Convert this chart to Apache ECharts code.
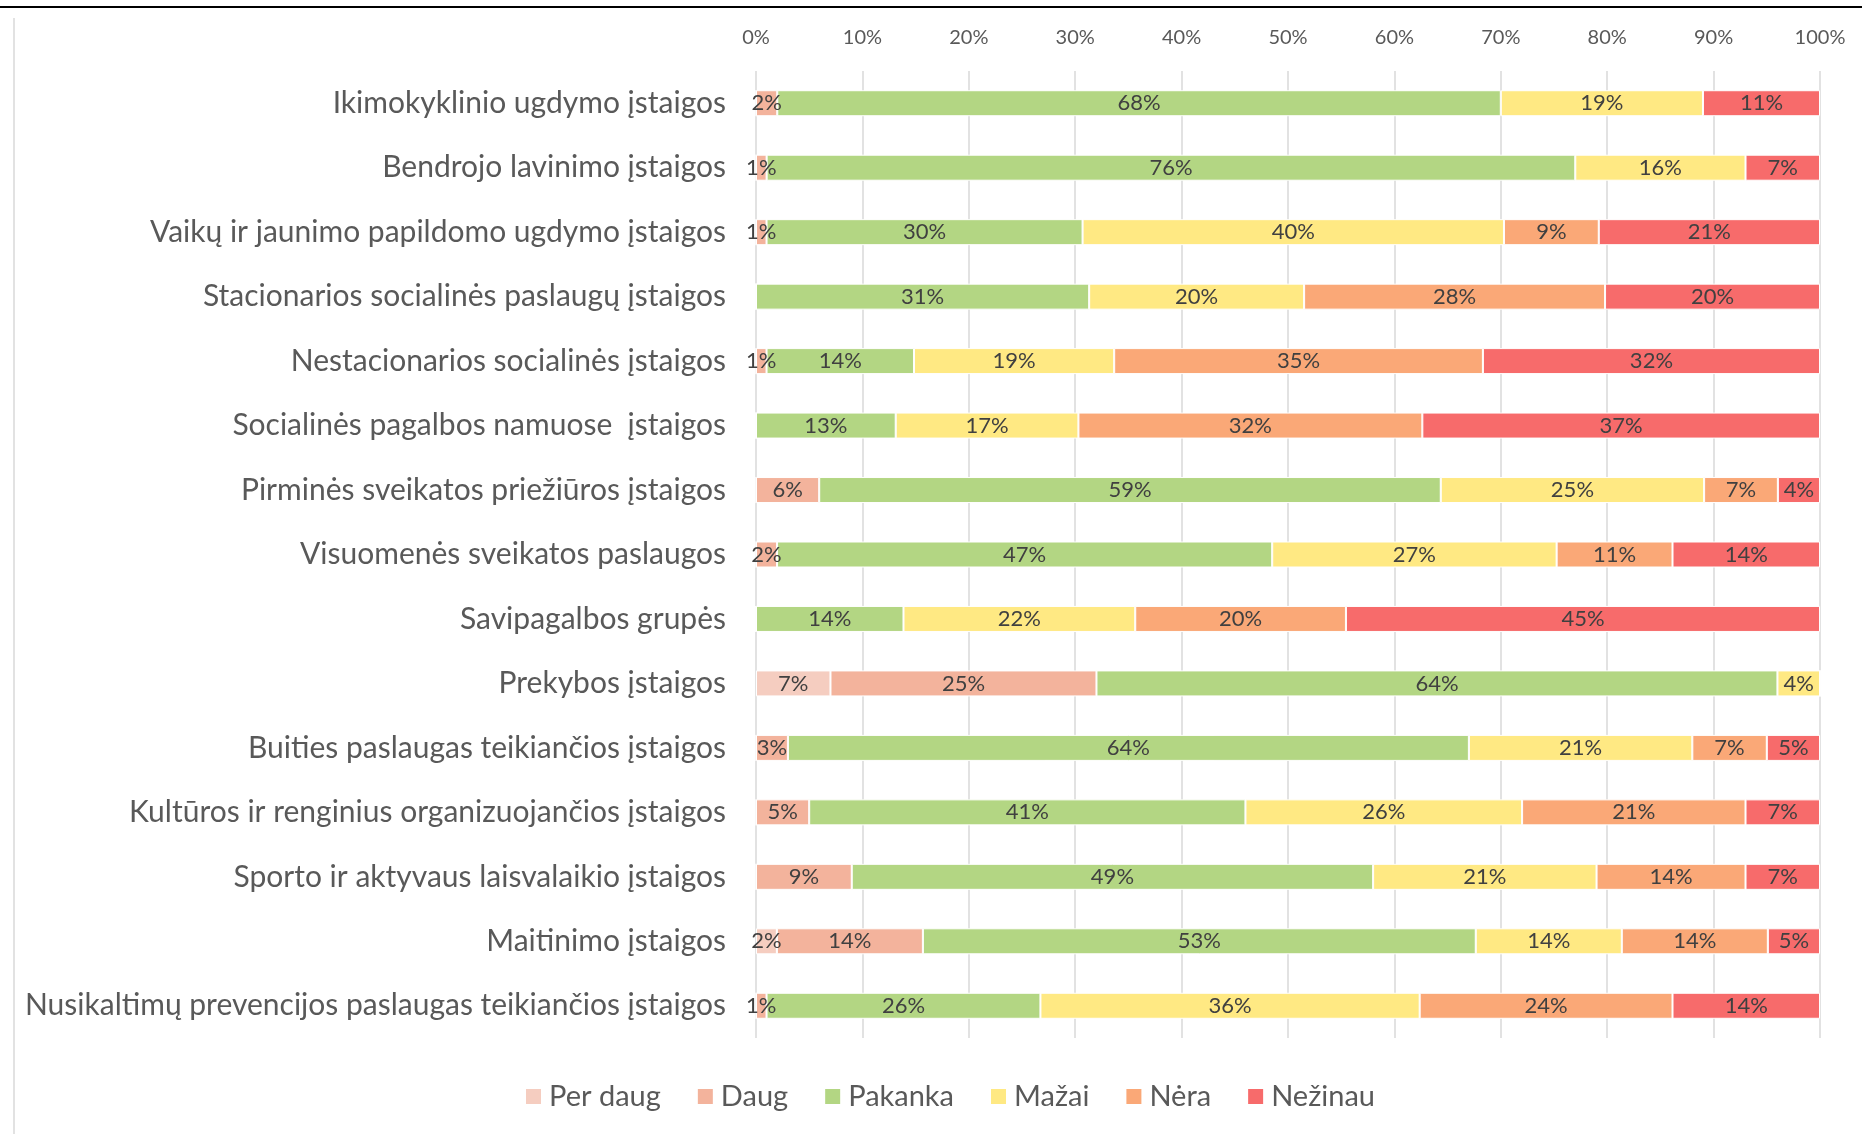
<!DOCTYPE html>
<html>
<head>
<meta charset="utf-8">
<script src="https://cdn.jsdelivr.net/npm/echarts@6/dist/echarts.min.js"></script>
<style>
  html, body { margin: 0; padding: 0; background: #fff; }
  #chart { width: 1872px; height: 1134px; }
</style>
</head>
<body>
<div id="chart"></div>
<script>
const categories = [
  'Ikimokyklinio ugdymo įstaigos',
  'Bendrojo lavinimo įstaigos',
  'Vaikų ir jaunimo papildomo ugdymo įstaigos',
  'Stacionarios socialinės paslaugų įstaigos',
  'Nestacionarios socialinės įstaigos',
  'Socialinės pagalbos namuose  įstaigos',
  'Pirminės sveikatos priežiūros įstaigos',
  'Visuomenės sveikatos paslaugos',
  'Savipagalbos grupės',
  'Prekybos įstaigos',
  'Buities paslaugas teikiančios įstaigos',
  'Kultūros ir renginius organizuojančios įstaigos',
  'Sporto ir aktyvaus laisvalaikio įstaigos',
  'Maitinimo įstaigos',
  'Nusikaltimų prevencijos paslaugas teikiančios įstaigos'
]

// answers per category, in %
const perDaug = [0, 0, 0, 0, 0, 0, 0, 0, 0, 7, 0, 0, 0, 2, 0]
const daug    = [2, 1, 1, 0, 1, 0, 6, 2, 0, 25, 3, 5, 9, 14, 1]
const pakanka = [68, 76, 30, 31, 14, 13, 59, 47, 14, 64, 64, 41, 49, 53, 26]
const mazai   = [19, 16, 40, 20, 19, 17, 25, 27, 22, 4, 21, 26, 21, 14, 36]
const nera    = [0, 0, 9, 28, 35, 32, 7, 11, 20, 0, 7, 21, 14, 14, 24]
const nezinau = [11, 7, 21, 20, 32, 37, 4, 14, 45, 0, 5, 7, 7, 5, 14]

const seriesNames = ['Per daug', 'Daug', 'Pakanka', 'Mažai', 'Nėra', 'Nežinau']
const seriesColors = ['#F5CDC0', '#F3B39C', '#B3D683', '#FFE983', '#FAA877', '#F76B6B']
const xTicks = ['0%', '10%', '20%', '30%', '40%', '50%', '60%', '70%', '80%', '90%', '100%']

const rawData = [perDaug, daug, pakanka, mazai, nera, nezinau]
// 100% stacked: each row scaled to its total
const rowTotals = categories.map((c, i) => rawData.reduce((s, arr) => s + arr[i], 0))

const chart = echarts.init(document.getElementById('chart'))

const series = seriesNames.map((name, k) => ({
  name: name,
  type: 'bar',
  stack: 'total',
  barWidth: 26,
  data: rawData[k].map((v, i) => (v / rowTotals[i]) * 100),
  itemStyle: {
    color: seriesColors[k],
    borderColor: '#fff',
    borderWidth: 1
  },
  label: {
    show: true,
    position: 'inside',
    color: '#404040',
    fontFamily: 'Lato',
    fontSize: 22,
    formatter: (p) => {
      const v = rawData[k][p.dataIndex]
      return v ? v + '%' : ''
    }
  },
  emphasis: { disabled: true }
}))

const option = {
  animation: false,
  textStyle: { fontFamily: 'Lato' },
  grid: {
    left: 756,
    right: 52,
    top: 71,
    bottom: 96,
    containLabel: false
  },
  xAxis: {
    type: 'value',
    position: 'top',
    min: 0,
    max: 100,
    interval: 10,
    axisLine: { show: false },
    axisTick: { show: false },
    splitLine: { lineStyle: { color: '#D9D9D9', width: 1.5 } },
    axisLabel: {
      margin: 23,
      color: '#595959',
      fontSize: 20,
      fontFamily: 'Lato',
      formatter: (v) => xTicks[Math.round(v / 10)]
    }
  },
  yAxis: {
    type: 'category',
    inverse: true,
    data: categories,
    axisLine: { show: false },
    axisTick: { show: false },
    axisLabel: {
      margin: 30,
      color: '#595959',
      fontSize: 30,
      fontFamily: 'Lato'
    }
  },
  legend: {
    data: seriesNames,
    top: 1077,
    left: 519,
    itemWidth: 17,
    itemHeight: 17,
    itemGap: 35,
    icon: 'rect',
    textStyle: { color: '#595959', fontSize: 29, fontFamily: 'Lato', padding: [0, 0, 0, 2] }
  },
  graphic: [
    {
      type: 'line',
      shape: { x1: 0, y1: 7, x2: 1862, y2: 7 },
      style: { stroke: '#000', lineWidth: 2 }
    },
    {
      type: 'line',
      shape: { x1: 14, y1: 18, x2: 14, y2: 1134 },
      style: { stroke: '#D9D9D9', lineWidth: 1.5 }
    }
  ],
  series: series
}

chart.setOption(option)
</script>
</body>
</html>
